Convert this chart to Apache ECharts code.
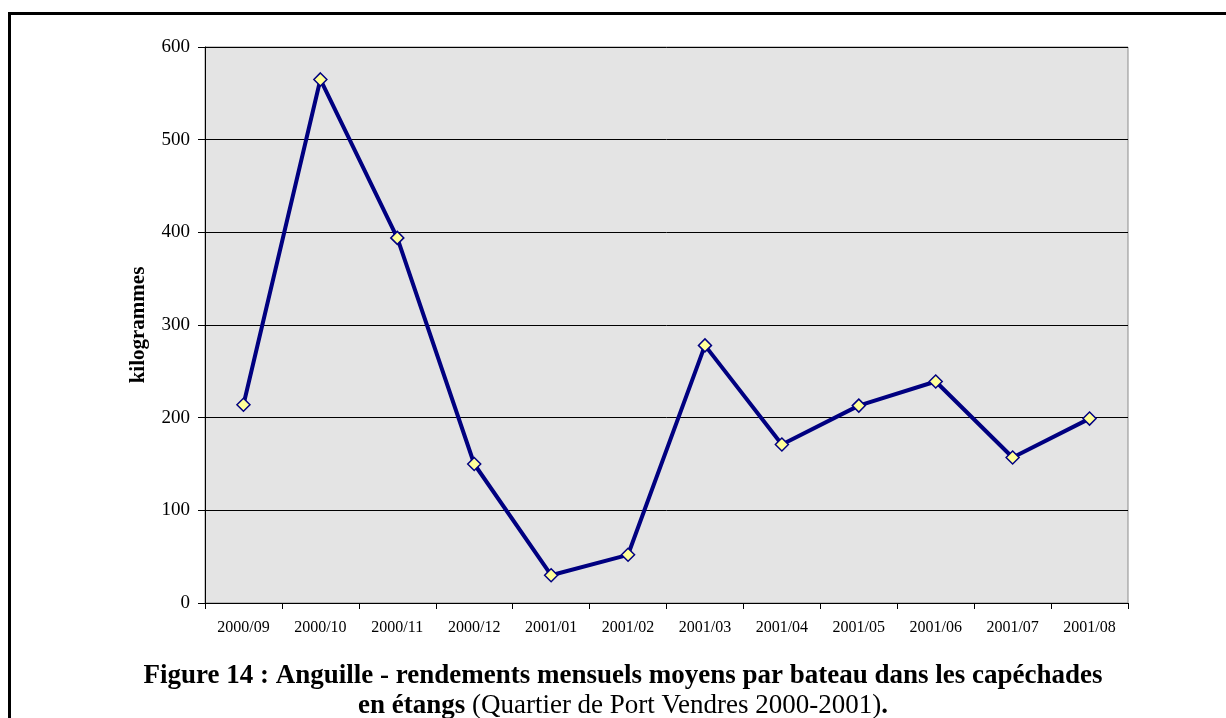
<!DOCTYPE html>
<html>
<head>
<meta charset="utf-8">
<script src="https://cdn.jsdelivr.net/npm/echarts@6/dist/echarts.min.js"></script>
<style>
    html, body { margin: 0; padding: 0; background: #ffffff; }
    .frame {
        position: absolute;
        left: 8px;
        top: 12px;
        width: 1230px;
        height: 720px;
        border-left: 3px solid #000;
        border-top: 3px solid #000;
        box-sizing: border-box;
    }
    #chart { position: absolute; left: 0; top: 0; width: 1226px; height: 718px; }
</style>
</head>
<body>
<div class="frame"></div>
<div id="chart"></div>
<script>
// données
const months = ["2000/09", "2000/10", "2000/11", "2000/12", "2001/01", "2001/02",
    "2001/03", "2001/04", "2001/05", "2001/06", "2001/07", "2001/08"];
const rendements = [214, 565, 394, 150, 30, 52, 278, 171, 213, 239, 157, 199];
const yTicks = [0, 100, 200, 300, 400, 500, 600];

const serif = "'Liberation Serif', 'Times New Roman', serif";
const myChart = echarts.init(document.getElementById("chart"));

const option = {
    backgroundColor: "transparent",
    animation: false,
    grid: {
        left: 205,
        right: 98,
        top: 47,
        bottom: 115,
        show: true,
        backgroundColor: "#e4e4e4",
        borderColor: "#8c8c8c",
        borderWidth: 1
    },
    xAxis: {
        type: "category",
        data: months,
        boundaryGap: true,
        axisLine: { lineStyle: { color: "#000", width: 1 } },
        axisTick: { show: true, length: 6, lineStyle: { color: "#000" } },
        axisLabel: { fontFamily: serif, fontSize: 16, color: "#000", margin: 17 },
        splitLine: { show: false }
    },
    yAxis: {
        type: "value",
        min: yTicks[0],
        max: yTicks[yTicks.length - 1],
        interval: 100,
        name: "kilogrammes",
        nameLocation: "middle",
        nameGap: 56,
        nameRotate: 90,
        nameTextStyle: { fontFamily: serif, fontSize: 21, fontWeight: "bold", color: "#000" },
        axisLine: { show: true, lineStyle: { color: "#000", width: 1 } },
        axisTick: { show: true, length: 7, lineStyle: { color: "#000" } },
        axisLabel: { fontFamily: serif, fontSize: 19, color: "#000", margin: 15 },
        splitLine: { show: true, lineStyle: { color: "#000", width: 1 } }
    },
    series: [
        {
            name: "rendements",
            type: "line",
            data: rendements,
            symbol: "diamond",
            symbolSize: 13,
            lineStyle: { color: "#000080", width: 4 },
            itemStyle: { color: "#ffff99", borderColor: "#000080", borderWidth: 1.5 },
            z: 3
        }
    ],
    graphic: [
        {
            type: "text",
            x: 623,
            y: 676,
            style: {
                text: "Figure 14 : Anguille - rendements mensuels moyens par bateau dans les capéchades",
                fontFamily: serif,
                fontSize: 27,
                fontWeight: "bold",
                fill: "#000",
                align: "center",
                verticalAlign: "middle"
            }
        },
        {
            type: "text",
            x: 623,
            y: 706,
            style: {
                text: "{b|en étangs}{n| (Quartier de Port Vendres 2000-2001)}{b|.}",
                align: "center",
                verticalAlign: "middle",
                rich: {
                    b: { fontFamily: serif, fontSize: 27, fontWeight: "bold", fill: "#000" },
                    n: { fontFamily: serif, fontSize: 27, fill: "#000" }
                }
            }
        }
    ]
};

myChart.setOption(option);
window.addEventListener("resize", () => myChart.resize());
</script>
</body>
</html>
